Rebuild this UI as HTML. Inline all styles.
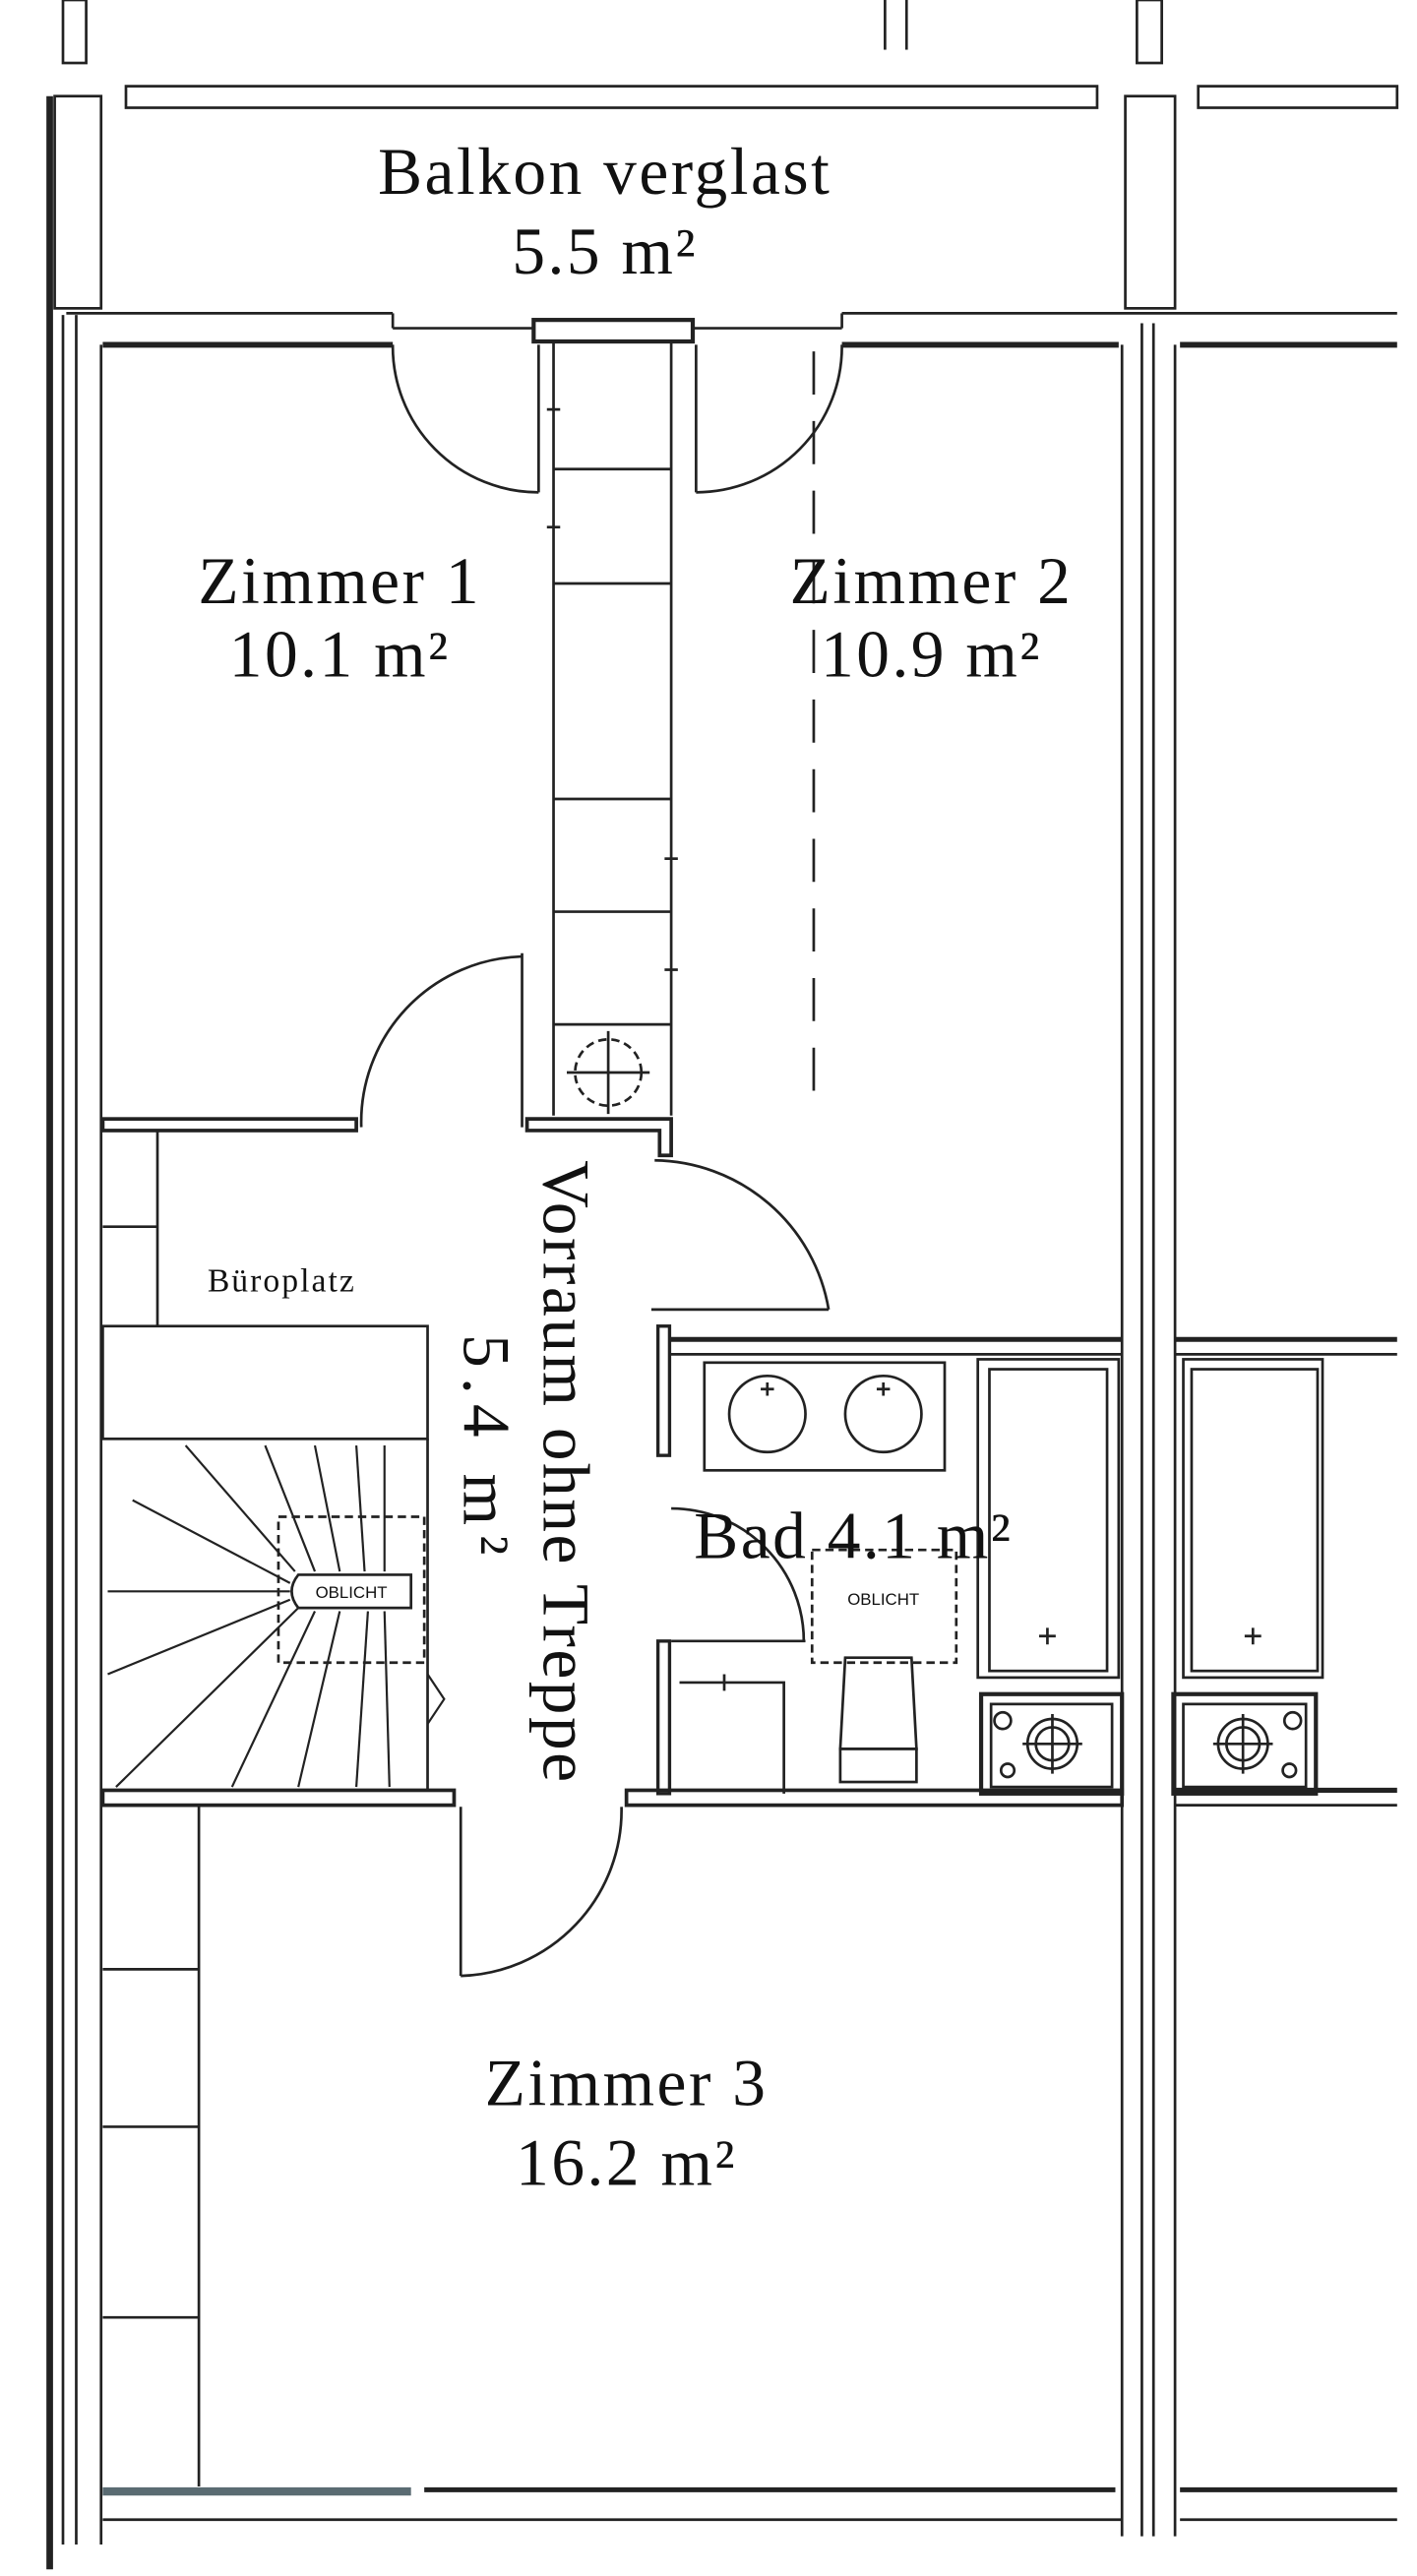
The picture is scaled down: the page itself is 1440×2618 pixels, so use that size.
<!DOCTYPE html>
<html><head><meta charset="utf-8"><style>
html,body{margin:0;padding:0;background:#fff}
svg{display:block}
text{font-family:"Liberation Serif",serif;fill:#111}
</style></head><body>
<svg width="1440" height="2618" viewBox="0 0 855 1554" preserveAspectRatio="none" xmlns="http://www.w3.org/2000/svg">
<g fill="none" stroke="#222" stroke-width="1.6">
<rect x="38" y="0" width="14" height="38"/>
<line x1="534" y1="0" x2="534" y2="30"/><line x1="547" y1="0" x2="547" y2="30"/>
<rect x="686" y="0" width="15" height="38"/>
<rect x="76" y="52" width="586" height="13"/>
<rect x="723" y="52" width="120" height="13"/>
<rect x="33" y="58" width="28" height="128"/>
<line x1="30" y1="58" x2="30" y2="1550" stroke-width="4"/>
<line x1="38" y1="190" x2="38" y2="1535"/>
<line x1="46" y1="190" x2="46" y2="1535"/>
<line x1="61" y1="208" x2="61" y2="1535"/>
<rect x="679" y="58" width="30" height="128"/>
<line x1="677" y1="208" x2="677" y2="1530"/>
<line x1="689" y1="195" x2="689" y2="1530"/>
<line x1="696" y1="195" x2="696" y2="1530"/>
<line x1="709" y1="208" x2="709" y2="1530"/>
<line x1="40" y1="189" x2="237" y2="189"/>
<line x1="237" y1="189" x2="237" y2="198"/>
<line x1="237" y1="198" x2="322" y2="198"/>
<line x1="418" y1="198" x2="508" y2="198"/>
<line x1="508" y1="189" x2="508" y2="198"/>
<line x1="508" y1="189" x2="843" y2="189"/>
<line x1="62" y1="208" x2="237" y2="208" stroke-width="3.5"/>
<line x1="508" y1="208" x2="675" y2="208" stroke-width="3.5"/>
<line x1="712" y1="208" x2="843" y2="208" stroke-width="3.5"/>
<rect x="322" y="193" width="96" height="13" stroke-width="2.5"/>
<line x1="334" y1="206" x2="334" y2="673"/>
<line x1="405" y1="206" x2="405" y2="673"/>
<line x1="334" y1="283" x2="405" y2="283"/><line x1="334" y1="352" x2="405" y2="352"/>
<line x1="334" y1="482" x2="405" y2="482"/><line x1="334" y1="550" x2="405" y2="550"/>
<line x1="334" y1="618" x2="405" y2="618"/>
<line x1="330" y1="247" x2="338" y2="247"/><line x1="330" y1="318" x2="338" y2="318"/>
<line x1="401" y1="518" x2="409" y2="518"/><line x1="401" y1="585" x2="409" y2="585"/>
<circle cx="367" cy="647" r="20" stroke-dasharray="5,3"/>
<line x1="342" y1="647" x2="392" y2="647"/><line x1="367" y1="622" x2="367" y2="672"/>
<line x1="325" y1="208" x2="325" y2="297"/>
<path d="M237 208 A88 88 0 0 0 325 297"/>
<line x1="420" y1="208" x2="420" y2="297"/>
<path d="M508 208 A88 88 0 0 1 420 297"/>
<line x1="491" y1="212" x2="491" y2="670" stroke-dasharray="26,16"/>
<rect x="62" y="675" width="153" height="7" stroke-width="2.2"/>
<line x1="315" y1="575" x2="315" y2="680"/>
<path d="M315 577 A100 100 0 0 0 218 680"/>
<path d="M318 675 H405 V697 H398 V682 H318 Z" stroke-width="2.2"/>
<path d="M395 700 A108 108 0 0 1 500 790"/>
<line x1="393" y1="790" x2="500" y2="790"/>
<rect x="397" y="800" width="7" height="78" stroke-width="2"/>
<rect x="397" y="990" width="7" height="92" stroke-width="2"/>
<line x1="404" y1="808" x2="677" y2="808" stroke-width="3"/>
<line x1="404" y1="817" x2="677" y2="817"/>
<line x1="709" y1="808" x2="843" y2="808" stroke-width="3"/>
<line x1="709" y1="817" x2="843" y2="817"/>
<rect x="425" y="822" width="145" height="65"/>
<circle cx="463" cy="853" r="23"/><circle cx="533" cy="853" r="23"/>
<path d="M459 838h8M463 834v8M529 838h8M533 834v8"/>
<rect x="590" y="820" width="85" height="192"/>
<rect x="597" y="826" width="71" height="182"/>
<path d="M627 987h10M632 982v10"/>
<rect x="714" y="820" width="84" height="192"/>
<rect x="719" y="826" width="76" height="182"/>
<path d="M751 987h10M756 982v10"/>
<line x1="405" y1="990" x2="486" y2="990"/>
<path d="M405 910 A80 80 0 0 1 485 990"/>
<rect x="490" y="935" width="87" height="68" stroke-dasharray="5,3"/>
<path d="M510 1000 H550 L553 1055 H507 Z"/>
<rect x="507" y="1055" width="46" height="20"/>
<path d="M410 1015 H473 V1082"/>
<path d="M437 1010v10"/>
<rect x="592" y="1022" width="85" height="60" stroke-width="2.5"/>
<rect x="598" y="1028" width="73" height="50"/>
<circle cx="635" cy="1052" r="15"/><circle cx="635" cy="1052" r="10"/>
<path d="M617 1052h36M635 1034v36"/>
<circle cx="605" cy="1038" r="5"/><circle cx="608" cy="1068" r="4"/>
<rect x="708" y="1022" width="86" height="60" stroke-width="2.5"/>
<rect x="714" y="1028" width="74" height="50"/>
<circle cx="750" cy="1052" r="15"/><circle cx="750" cy="1052" r="10"/>
<path d="M732 1052h36M750 1034v36"/>
<circle cx="780" cy="1038" r="5"/><circle cx="778" cy="1068" r="4"/>
<rect x="62" y="1080" width="212" height="9" stroke-width="2.2"/>
<rect x="378" y="1080" width="299" height="9" stroke-width="2.2"/>
<line x1="709" y1="1080" x2="843" y2="1080" stroke-width="3"/>
<line x1="709" y1="1089" x2="843" y2="1089"/>
<line x1="95" y1="682" x2="95" y2="800"/>
<line x1="62" y1="740" x2="95" y2="740"/>
<rect x="62" y="800" width="196" height="68"/>
<line x1="258" y1="868" x2="258" y2="1080"/>
<rect x="168" y="915" width="88" height="88" stroke-dasharray="5,3"/>
<path d="M180 950 Q172 960 180 970 H248 V950 Z" fill="#fff"/>
<g stroke-width="1.3">
<line x1="175" y1="955" x2="80" y2="905"/>
<line x1="175" y1="960" x2="65" y2="960"/>
<line x1="175" y1="965" x2="65" y2="1010"/>
<line x1="180" y1="970" x2="70" y2="1078"/>
<line x1="190" y1="972" x2="140" y2="1078"/>
<line x1="205" y1="972" x2="180" y2="1078"/>
<line x1="222" y1="972" x2="215" y2="1078"/>
<line x1="232" y1="972" x2="235" y2="1078"/>
<line x1="178" y1="948" x2="112" y2="872"/>
<line x1="190" y1="948" x2="160" y2="872"/>
<line x1="205" y1="948" x2="190" y2="872"/>
<line x1="220" y1="948" x2="215" y2="872"/>
<line x1="232" y1="948" x2="232" y2="872"/>
<path d="M258 1010 L268 1025 L258 1040"/>
</g>
<line x1="278" y1="1090" x2="278" y2="1192"/>
<path d="M278 1192 A100 100 0 0 0 375 1090"/>
<line x1="120" y1="1090" x2="120" y2="1500"/>
<line x1="62" y1="1188" x2="120" y2="1188"/>
<line x1="62" y1="1283" x2="120" y2="1283"/>
<line x1="62" y1="1398" x2="120" y2="1398"/>
<line x1="62" y1="1503" x2="248" y2="1503" stroke="#5a6b72" stroke-width="5"/>
<line x1="256" y1="1502" x2="673" y2="1502" stroke-width="3"/>
<line x1="62" y1="1520" x2="677" y2="1520"/>
<line x1="712" y1="1502" x2="843" y2="1502" stroke-width="3"/>
<line x1="712" y1="1520" x2="843" y2="1520"/>
</g>
<text x="212" y="964" text-anchor="middle" style="font-family:'Liberation Sans',sans-serif;font-size:10px">OBLICHT</text>
<text x="533" y="968" text-anchor="middle" style="font-family:'Liberation Sans',sans-serif;font-size:10px">OBLICHT</text>
<g font-size="40" text-anchor="middle" letter-spacing="1.5">
<text x="365" y="117">Balkon verglast</text>
<text x="365" y="165">5.5 m²</text>
<text x="205" y="364">Zimmer 1</text>
<text x="205" y="408">10.1 m²</text>
<text x="562" y="364">Zimmer 2</text>
<text x="562" y="408">10.9 m²</text>
<text x="515" y="940">Bad 4.1 m²</text>
<text x="378" y="1270">Zimmer 3</text>
<text x="378" y="1318">16.2 m²</text>
</g>
<text transform="translate(328,700) rotate(90)" font-size="40" letter-spacing="1.5">Vorraum ohne Treppe</text>
<text transform="translate(280,805) rotate(90)" font-size="40" letter-spacing="6">5.4 m²</text>
<text x="170" y="779" font-size="20" letter-spacing="1.2" text-anchor="middle">Büroplatz</text>
</svg>
</body></html>
